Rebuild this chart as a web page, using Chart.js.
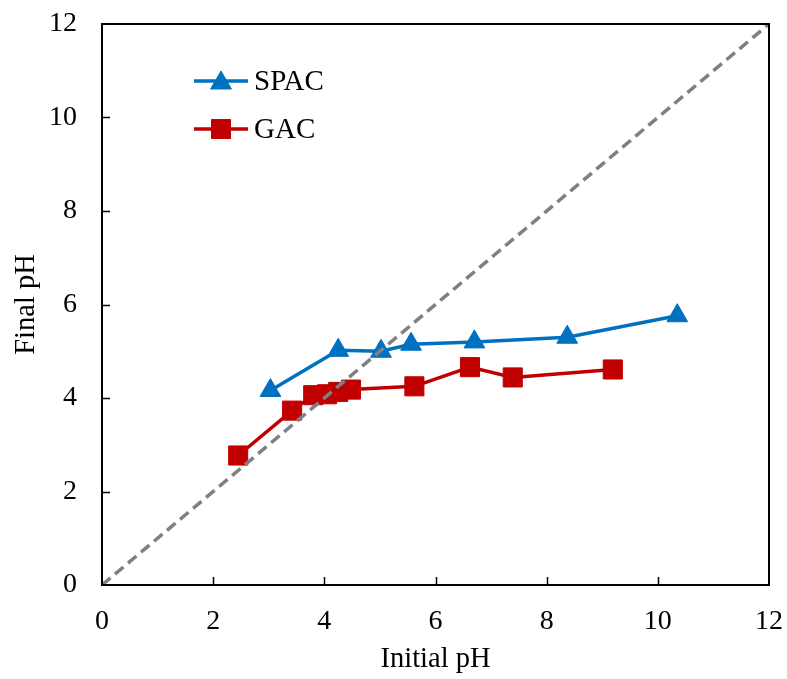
<!DOCTYPE html>
<html>
<head>
<meta charset="utf-8">
<script src="https://cdn.jsdelivr.net/npm/chart.js@4.4.1/dist/chart.umd.min.js"></script>
<style>
  html, body { margin: 0; padding: 0; background: #fff; }
  #wrap { width: 787px; height: 679px; }
</style>
</head>
<body>
<div id="wrap"><canvas id="c" width="787" height="679"></canvas></div>
<script>
// ---- data ----
const seriesNames = ["SPAC", "GAC"];
const spacX = [3.03, 4.25, 5.02, 5.56, 6.70, 8.37, 10.35];
const spacY = [4.16, 5.02, 5.00, 5.15, 5.20, 5.30, 5.76];
const gacX = [2.45, 3.42, 3.80, 4.05, 4.25, 4.48, 5.62, 6.62, 7.39, 9.19];
const gacY = [2.77, 3.73, 4.06, 4.08, 4.13, 4.18, 4.25, 4.66, 4.44, 4.61];
const refX = [0, 12];
const refY = [0, 12];
const xTicks = [0, 2, 4, 6, 8, 10, 12];
const yTicks = [0, 2, 4, 6, 8, 10, 12];
const xTitle = "Initial pH";
const yTitle = "Final pH";

const BLUE = "#0070C0";
const RED = "#C00000";
const GRAY = "#808080";
const FONT = "'Liberation Serif', 'Times New Roman', serif";

const toPts = (xs, ys) => xs.map((x, i) => ({ x: x, y: ys[i] }));

Chart.defaults.color = "#000";
Chart.defaults.font.family = FONT;

function zeroPad(s) {
  s.paddingLeft = 0; s.paddingRight = 0; s.paddingTop = 0; s.paddingBottom = 0;
}

const frame = {
  id: "frame",
  afterDatasetsDraw(chart) {
    const { ctx, chartArea: a, scales } = chart;
    ctx.save();
    ctx.strokeStyle = "#000";
    ctx.lineWidth = 1.5;
    ctx.beginPath();
    xTicks.forEach(v => {
      if (v === scales.x.min || v === scales.x.max) return;
      const px = Math.round(scales.x.getPixelForValue(v)) + 0.5;
      ctx.moveTo(px, a.bottom);
      ctx.lineTo(px, a.bottom - 8);
    });
    yTicks.forEach(v => {
      if (v === scales.y.min || v === scales.y.max) return;
      const py = Math.round(scales.y.getPixelForValue(v)) + 0.5;
      ctx.moveTo(a.left, py);
      ctx.lineTo(a.left + 8, py);
    });
    ctx.stroke();
    ctx.lineWidth = 2;
    ctx.strokeRect(a.left, a.top, a.right - a.left, a.bottom - a.top);

    // legend
    const items = [
      { name: seriesNames[0], color: BLUE, style: "triangle", r: 12, y: 81 },
      { name: seriesNames[1], color: RED, style: "rect", r: 13.5, y: 129 }
    ];
    items.forEach(it => {
      ctx.strokeStyle = it.color;
      ctx.lineWidth = 3.5;
      ctx.beginPath();
      ctx.moveTo(194, it.y);
      ctx.lineTo(248, it.y);
      ctx.stroke();
      ctx.fillStyle = it.color;
      ctx.strokeStyle = it.color;
      ctx.lineWidth = 1;
      Chart.helpers.drawPoint(ctx, { pointStyle: it.style, radius: it.r, borderWidth: 1, rotation: 0 }, 221, it.style === "triangle" ? it.y + 2 : it.y);
      ctx.fillStyle = "#000";
      ctx.font = "29px " + FONT;
      ctx.textAlign = "left";
      ctx.textBaseline = "middle";
      ctx.fillText(it.name, 254, it.y + 1);
    });
    ctx.restore();
  }
};

new Chart(document.getElementById("c"), {
  type: "scatter",
  data: {
    datasets: [
      {
        label: "1:1",
        data: toPts(refX, refY),
        showLine: true,
        borderColor: GRAY,
        borderWidth: 3.5,
        borderDash: [11, 6],
        pointRadius: 0,
        order: 0
      },
      {
        label: seriesNames[0],
        data: toPts(spacX, spacY),
        showLine: true,
        borderColor: BLUE,
        backgroundColor: BLUE,
        borderWidth: 3.5,
        pointStyle: "triangle",
        pointRadius: 12,
        pointBorderWidth: 1,
        order: 1
      },
      {
        label: seriesNames[1],
        data: toPts(gacX, gacY),
        showLine: true,
        borderColor: RED,
        backgroundColor: RED,
        borderWidth: 3.5,
        pointStyle: "rect",
        pointRadius: 13.5,
        pointBorderWidth: 1,
        order: 2
      }
    ]
  },
  options: {
    responsive: false,
    animation: false,
    devicePixelRatio: 1,
    layout: { autoPadding: false, padding: { left: 0, top: 24, right: 18, bottom: 0 } },
    plugins: { legend: { display: false }, tooltip: { enabled: false } },
    scales: {
      x: {
        type: "linear",
        min: 0, max: 12,
        afterBuildTicks: s => { s.ticks = xTicks.map(v => ({ value: v })); },
        afterFit: s => { s.height = 94; zeroPad(s); },
        grid: { display: false, drawTicks: false, tickLength: 0 },
        border: { display: false },
        ticks: { font: { size: 28, family: FONT }, padding: 20, maxRotation: 0 },
        title: { display: true, text: xTitle, font: { size: 28.5, family: FONT }, padding: { top: 0, bottom: 2 } }
      },
      y: {
        type: "linear",
        min: 0, max: 12,
        afterBuildTicks: s => { s.ticks = yTicks.map(v => ({ value: v })); },
        afterFit: s => { s.width = 102; zeroPad(s); },
        grid: { display: false, drawTicks: false, tickLength: 0 },
        border: { display: false },
        ticks: { font: { size: 28, family: FONT }, padding: 25 },
        title: { display: true, text: yTitle, font: { size: 28.5, family: FONT }, padding: { top: 9, bottom: 0 } }
      }
    }
  },
  plugins: [frame]
});
</script>
</body>
</html>
